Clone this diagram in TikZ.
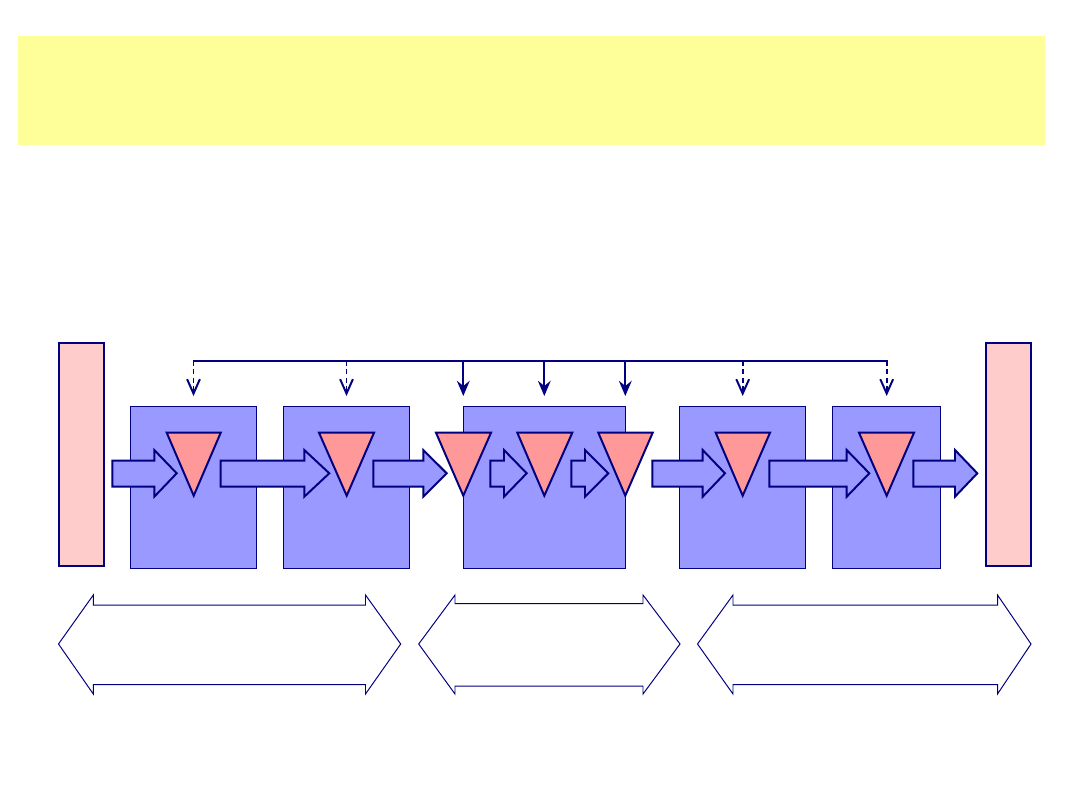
\documentclass[tikz,border=0pt]{standalone}
\usetikzlibrary{arrows.meta}
\definecolor{navy}{HTML}{000080}
\definecolor{bandyellow}{HTML}{FFFF99}
\definecolor{boxblue}{HTML}{9999FF}
\definecolor{tripink}{HTML}{FF9999}
\definecolor{endpink}{HTML}{FFCCCC}
\tikzset{
  px/.style={x=0.025cm,y=-0.025cm},
  band/.style={fill=bandyellow,draw=none},
  bluebox/.style={draw=navy,fill=boxblue,line width=0.7pt,inner sep=0pt,outer sep=0pt,anchor=north west},
  endbox/.style={draw=navy,fill=endpink,line width=1.4pt,inner sep=0pt,outer sep=0pt,anchor=north west},
  tri/.style={draw=navy,fill=tripink,line width=1.4pt,line join=miter},
  flow/.style={draw=navy,fill=boxblue,line width=1.4pt,line join=miter},
  span/.style={draw=navy,fill=white,line width=0.7pt,line join=miter},
  bus/.style={draw=navy,line width=1.4pt},
  dropdash/.style={bus,dash pattern=on 1.3mm off 0.8mm,-{Straight Barb[length=3.6mm,width=3.2mm,line width=1.4pt]}},
  dropsolid/.style={bus,-{Stealth[length=3.8mm,width=3.2mm,inset=1.3mm]}},
}
\newcommand\pxbox[6]{\node[#6,minimum width={(#4-#2)*0.025cm},minimum height={(#5-#3)*0.025cm}] (#1) at (#2,#3) {};}
\newcommand\rblock[3]{\path[flow] (#1,460.7) -- (#2,460.7) -- (#2,450) -- (#3,473.3) -- (#2,496.7) -- (#2,486.7) -- (#1,486.7) -- cycle;}
\newcommand\downtri[3]{\path[tri] (#1,432.7) -- (#2,432.7) -- (#3,495.7) -- cycle;}
\newcommand\dblblock[6]{\path[span] (#1,644) -- (#2,595) -- (#2,#5) -- (#3,#5) -- (#3,595) -- (#4,644) -- (#3,694) -- (#3,#6) -- (#2,#6) -- (#2,694) -- cycle;}
\begin{document}
\begin{tikzpicture}[px]
\useasboundingbox (0,0) rectangle (1080,810);
% header band
\path[band] (18,36) rectangle (1045,145);
% end boxes
\pxbox{src}{59}{343}{104}{566}{endbox}
\pxbox{snk}{986}{343}{1031}{566}{endbox}
% process boxes
\pxbox{b1}{130}{406.5}{256.7}{568.3}{bluebox}
\pxbox{b2}{283.3}{406.5}{409.3}{568.3}{bluebox}
\pxbox{b3}{463.3}{406.5}{625.3}{568.3}{bluebox}
\pxbox{b4}{679.3}{406.5}{805.7}{568.3}{bluebox}
\pxbox{b5}{832.3}{406.5}{940.7}{568.3}{bluebox}
% flow arrows
\rblock{112.3}{154.3}{176.7}
\rblock{220.7}{304.3}{329.3}
\rblock{373.3}{423.3}{446.7}
\rblock{490.3}{504}{526.7}
\rblock{571.3}{585}{608.3}
\rblock{652.3}{702.7}{725}
\rblock{769.3}{846.7}{869.3}
\rblock{913.3}{955}{977.3}
% triangles
\downtri{166.7}{220.7}{193.7}
\downtri{319}{374}{346.7}
\downtri{436}{491}{463.3}
\downtri{517.3}{572.3}{544.3}
\downtri{598.3}{652.7}{625.3}
\downtri{715.7}{770}{742.7}
\downtri{859}{914}{886.7}
% control bus
\coordinate (t1) at (193.5,360.7);
\coordinate (t2) at (346.5,360.7);
\coordinate (t3) at (463.3,360.7);
\coordinate (t4) at (544.3,360.7);
\coordinate (t5) at (625.3,360.7);
\coordinate (t6) at (742.7,360.7);
\coordinate (t7) at (886.7,360.7);
\coordinate (e1) at (193.5,396);
\coordinate (e2) at (346.5,396);
\coordinate (e3) at (463.3,396);
\coordinate (e4) at (544.3,396);
\coordinate (e5) at (625.3,396);
\coordinate (e6) at (742.7,396);
\coordinate (e7) at (886.7,396);
\draw[bus,line cap=rect] (t1) -- (t7);
\draw[dropdash] (t1) -- (e1);
\draw[dropdash] (t2) -- (e2);
\draw[dropsolid] (t3) -- (e3);
\draw[dropsolid] (t4) -- (e4);
\draw[dropsolid] (t5) -- (e5);
\draw[dropdash] (t6) -- (e6);
\draw[dropdash] (t7) -- (e7);
% span arrows
\dblblock{58.5}{93.3}{365.5}{400.7}{605}{684.5}
\dblblock{418.7}{455}{643}{680}{603.5}{686}
\dblblock{697.5}{733}{997.5}{1031}{605}{684.5}
\end{tikzpicture}
\end{document}
